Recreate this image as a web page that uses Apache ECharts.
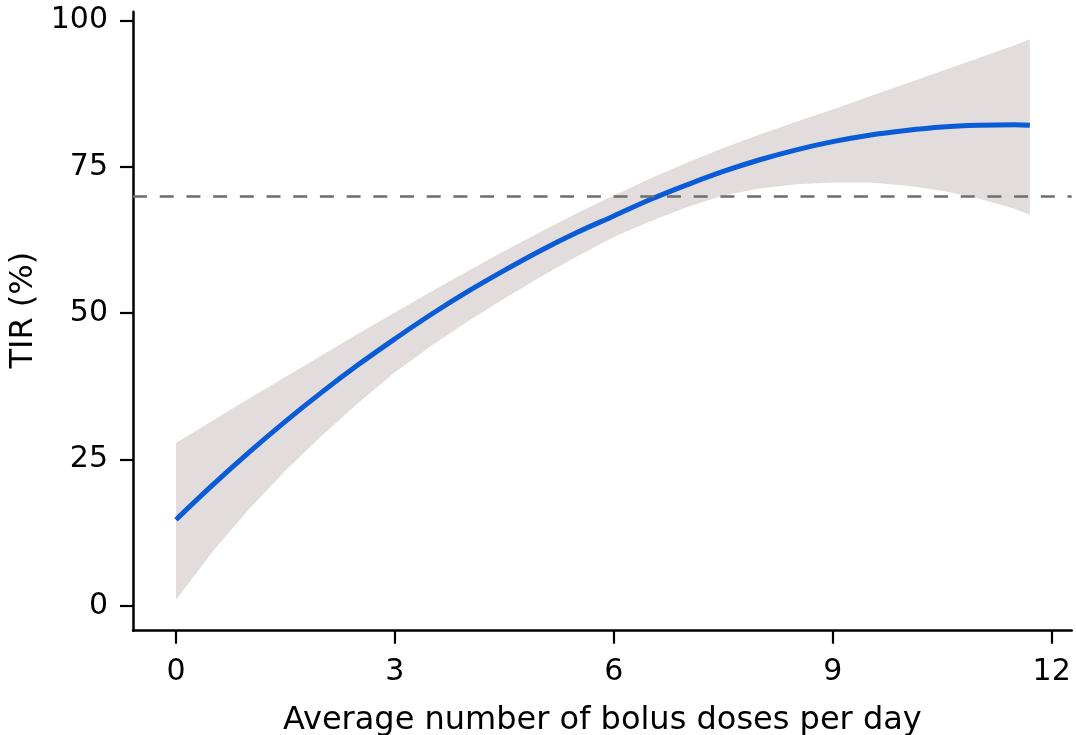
<!DOCTYPE html>
<html>
<head>
<meta charset="utf-8">
<script src="https://cdn.jsdelivr.net/npm/echarts@6/dist/echarts.min.js"></script>
<style>
html,body{margin:0;padding:0;background:#fff;}
#chart{width:1076px;height:735px;}
</style>
</head>
<body>
<div id="chart"></div>
<script>
// Data
const xs    = [0, 0.5, 1, 1.5, 2, 2.5, 3, 3.5, 4, 4.5, 5, 5.5, 6, 6.5, 7, 7.5, 8, 8.5, 9, 9.5, 10, 10.5, 11, 11.5, 11.7];
const fit   = [14.7, 20.6, 26.2, 31.5, 36.5, 41.2, 45.6, 49.8, 53.7, 57.3, 60.7, 63.8, 66.6, 69.4, 71.9, 74.2, 76.2, 77.9, 79.3, 80.4, 81.2, 81.8, 82.1, 82.2, 82.1];
const upper = [27.8, 31.6, 35.4, 39.1, 42.8, 46.5, 50.1, 53.7, 57.2, 60.6, 63.9, 67.1, 70.1, 73.0, 75.7, 78.2, 80.5, 82.7, 84.8, 87.0, 89.2, 91.4, 93.6, 95.8, 96.8];
const lower = [1.0, 9.2, 16.5, 23.1, 29.1, 34.7, 39.9, 44.4, 48.6, 52.5, 56.2, 59.7, 63.0, 65.7, 68.1, 70.1, 71.3, 72.0, 72.3, 72.3, 71.8, 70.9, 69.6, 67.8, 66.8];
const refLine = 70;
const xTicks = [0, 3, 6, 9, 12];
const yTicks = [0, 25, 50, 75, 100];
const xTitle = 'Average number of bolus doses per day';
const yTitle = 'TIR (%)';

const FONT = 'DejaVu Sans';
const chart = echarts.init(document.getElementById('chart'), null, {renderer: 'canvas'});

const axisCommon = {
  type: 'value',
  axisLine: {show: true, onZero: false, lineStyle: {color: '#000', width: 2.5}},
  axisTick: {show: true, length: 13, lineStyle: {color: '#000', width: 2.2}},
  splitLine: {show: false},
  nameLocation: 'middle'
};

chart.setOption({
  animation: false,
  backgroundColor: '#fff',
  grid: {left: 133, right: 4.3, top: 11.7, bottom: 104.3, containLabel: false, outerBoundsMode: 'none'},
  xAxis: Object.assign({}, axisCommon, {
    min: -0.589, max: 12.274,
    axisTick: Object.assign({}, axisCommon.axisTick, {customValues: xTicks}),
    axisLabel: {customValues: xTicks, margin: 27, color: '#000', fontSize: 30, fontFamily: FONT},
    name: xTitle, nameGap: 74,
    nameTextStyle: {color: '#000', fontSize: 32, fontFamily: FONT}
  }),
  yAxis: Object.assign({}, axisCommon, {
    min: -4.27, max: 101.5,
    axisTick: Object.assign({}, axisCommon.axisTick, {customValues: yTicks}),
    axisLabel: {customValues: yTicks, margin: 25, color: '#000', fontSize: 30, fontFamily: FONT},
    name: yTitle, nameGap: 88,
    nameTextStyle: {color: '#000', fontSize: 32, fontFamily: FONT, padding: [0, 0, 0, 22]}
  }),
  series: [
    {
      type: 'custom',
      z: 1,
      silent: true,
      data: [[0, 0]],
      renderItem: function (params, api) {
        const pts = [];
        for (let i = 0; i < xs.length; i++) pts.push(api.coord([xs[i], upper[i]]));
        for (let i = xs.length - 1; i >= 0; i--) pts.push(api.coord([xs[i], lower[i]]));
        return {type: 'polygon', shape: {points: pts}, style: {fill: '#e2dcdd', stroke: null}};
      }
    },
    {
      type: 'line',
      z: 2,
      data: [],
      markLine: {
        silent: true,
        symbol: ['none', 'none'],
        label: {show: false},
        lineStyle: {color: '#6e6e6e', width: 2.5, type: [14, 12.7]},
        data: [{yAxis: refLine}]
      }
    },
    {
      type: 'line',
      z: 3,
      data: xs.map((x, i) => [x, fit[i]]),
      smooth: 0.4,
      showSymbol: false,
      lineStyle: {color: '#0a5bd6', width: 5, cap: 'butt'}
    }
  ]
});
</script>
</body>
</html>
